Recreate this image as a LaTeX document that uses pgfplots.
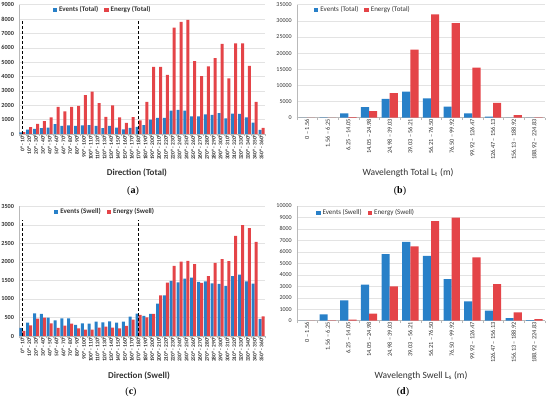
\documentclass[border=0pt]{standalone}
\usepackage{fontspec}
\setmainfont{Carlito}
\newfontfamily\capfont{Liberation Serif}
\usepackage{pgfplots}
\pgfplotsset{compat=1.18}
\definecolor{evblue}{RGB}{40,128,200}
\definecolor{enred}{RGB}{228,68,72}
\definecolor{txt}{RGB}{50,50,50}
\pgfplotsset{
  excel/.style={
    scale only axis,
    anchor=south west,
    axis x line*=bottom,
    axis y line*=left,
    axis line style={gray!55},
    ymin=0,
    ymajorgrids,
    grid style={gray!22, line width=0.4pt},
    tick align=outside,
    major tick length=0pt,
    minor tick length=2.5pt,
    tick style={gray!55},
    /pgf/number format/assume math mode=true,
    /pgf/number format/1000 sep={},
    scaled y ticks=false,
    ticklabel style={text=txt},
    yticklabel style={xshift=-1.5pt},
    xticklabel style={rotate=90, anchor=east, inner sep=1pt, yshift=0pt},
    legend columns=2,
    legend cell align=left,
    legend style={draw=none, fill=none, text=txt, inner sep=1pt,
      /tikz/every even column/.append style={column sep=4pt}},
    legend image code/.code={\fill[##1] (0pt,-2.2pt) rectangle (4.4pt,2.2pt);},
  },
  dirlabels/.style={
    xmin=-0.5, xmax=35.5,
    xtick={0,...,35},
    minor xtick={-0.5,0.5,...,35.5},
    xticklabel={\pgfmathtruncatemacro\lo{round(\tick)*10}\pgfmathtruncatemacro\hi{round(\tick)*10+10}\lo°~-~\hi°},
    xticklabel style={font=\bfseries\fontsize{5.5}{6}\selectfont},
    yticklabel style={font=\bfseries\fontsize{6.2}{7}\selectfont},
    legend style={font=\bfseries\fontsize{7}{8}\selectfont},
  },
  wavelabels/.style={
    xmin=-0.5, xmax=11.5,
    xtick={0,...,11},
    minor xtick={-0.5,0.5,...,11.5},
    xticklabels={0 – 1.56, 1.56 – 6.25, 6.25 – 14.05, 14.05 – 24.98, 24.98 – 39.03, 39.03 – 56.21, 56.21 – 76.50, 76.50 – 99.92, 99.92 – 126.47, 126.47 – 156.13, 156.13 – 188.92, 188.92 – 224.83},
    xticklabel style={font=\fontsize{6.3}{7}\selectfont},
    yticklabel style={font=\fontsize{6}{7}\selectfont},
    legend style={font=\fontsize{7}{8}\selectfont},
  },
}
\begin{document}
\begin{tikzpicture}
\path[use as bounding box] (0,0) rectangle (550pt,401pt);

% (a)
\begin{axis}[excel, dirlabels, at={(19pt,267pt)}, width=246pt, height=129.3pt,
  ymax=9000, ytick={0,1000,...,9000},
  legend style={at={(0.34,0.96)}, anchor=center}]
\addplot[ybar, bar width=3pt, bar shift=-1.5pt, fill=evblue, draw=none] coordinates {
(0,120) (1,300) (2,350) (3,400) (4,450) (5,680) (6,560) (7,600) (8,560) (9,600)
(10,620) (11,560) (12,400) (13,560) (14,450) (15,330) (16,430) (17,500) (18,620) (19,1000)
(20,1130) (21,1130) (22,1630) (23,1680) (24,1620) (25,1220) (26,1220) (27,1370) (28,1330) (29,1450)
(30,1080) (31,1420) (32,1400) (33,1150) (34,800) (35,280)};
\addlegendentry{Events (Total)}
\addplot[ybar, bar width=3pt, bar shift=1.5pt, fill=enred, draw=none] coordinates {
(0,130) (1,480) (2,700) (3,900) (4,1150) (5,1880) (6,1580) (7,1880) (8,1950) (9,2700)
(10,2950) (11,2150) (12,1200) (13,2000) (14,1150) (15,780) (16,1180) (17,950) (18,2230) (19,4680)
(20,4680) (21,4120) (22,7400) (23,7800) (24,7950) (25,5080) (26,4020) (27,4700) (28,5280) (29,6280)
(30,3870) (31,6300) (32,6300) (33,4750) (34,2230) (35,420)};
\addlegendentry{Energy (Total)}
\addplot[sharp plot, black, line width=1.1pt, dash pattern=on 3pt off 2pt, forget plot] coordinates {(0,0) (0,8000)};
\addplot[sharp plot, black, line width=1.1pt, dash pattern=on 3pt off 2pt, forget plot] coordinates {(17,0) (17,8000)};
\end{axis}

% (b)
\begin{axis}[excel, wavelabels, at={(296.7pt,283.3pt)}, width=248pt, height=113pt,
  ymax=35000, ytick={0,5000,...,35000},
  legend style={at={(0.267,0.953)}, anchor=center}]
\addplot[ybar, bar width=8.2pt, bar shift=-4.1pt, fill=evblue, draw=none] coordinates {
(0,0) (1,100) (2,1300) (3,3300) (4,5800) (5,8100) (6,6000) (7,3400) (8,1300) (9,300) (10,50) (11,20)};
\addlegendentry{Events (Total)}
\addplot[ybar, bar width=8.2pt, bar shift=4.1pt, fill=enred, draw=none] coordinates {
(0,0) (1,50) (2,200) (3,2000) (4,7600) (5,21100) (6,32000) (7,29300) (8,15500) (9,4600) (10,830) (11,120)};
\addlegendentry{Energy (Total)}
\end{axis}

% (c)
\begin{axis}[excel, dirlabels, at={(19pt,65pt)}, width=246pt, height=129.7pt,
  ymax=3500, ytick={0,500,...,3500},
  legend style={at={(0.35,0.956)}, anchor=center}]
\addplot[ybar, bar width=3pt, bar shift=-1.5pt, fill=evblue, draw=none] coordinates {
(0,216) (1,360) (2,612) (3,595) (4,495) (5,423) (6,477) (7,477) (8,297) (9,342)
(10,333) (11,387) (12,369) (13,396) (14,360) (15,387) (16,522) (17,603) (18,540) (19,595)
(20,874) (21,1099) (22,1486) (23,1450) (24,1550) (25,1577) (26,1459) (27,1477) (28,1423) (29,1405)
(30,1351) (31,1613) (32,1658) (33,1477) (34,1414) (35,459)};
\addlegendentry{Events (Swell)}
\addplot[ybar, bar width=3pt, bar shift=1.5pt, fill=enred, draw=none] coordinates {
(0,135) (1,288) (2,468) (3,495) (4,342) (5,216) (6,279) (7,333) (8,207) (9,171)
(10,171) (11,225) (12,252) (13,225) (14,207) (15,270) (16,441) (17,567) (18,504) (19,595)
(20,1099) (21,1441) (22,1892) (23,2009) (24,2027) (25,1937) (26,1432) (27,1613) (28,1973) (29,2072)
(30,2018) (31,2703) (32,2991) (33,2910) (34,2541) (35,532)};
\addlegendentry{Energy (Swell)}
\addplot[sharp plot, black, line width=1.1pt, dash pattern=on 3pt off 2pt, forget plot] coordinates {(0,0) (0,3120)};
\addplot[sharp plot, black, line width=1.1pt, dash pattern=on 3pt off 2pt, forget plot] coordinates {(17,0) (17,3120)};
\end{axis}

% (d)
\begin{axis}[excel, wavelabels, at={(296.7pt,80.3pt)}, width=248pt, height=114.7pt,
  ymax=10000, ytick={0,1000,...,10000},
  legend style={at={(0.28,0.94)}, anchor=center}]
\addplot[ybar, bar width=8.2pt, bar shift=-4.1pt, fill=evblue, draw=none] coordinates {
(0,0) (1,550) (2,1780) (3,3150) (4,5800) (5,6880) (6,5650) (7,3630) (8,1680) (9,880) (10,230) (11,50)};
\addlegendentry{Events (Swell)}
\addplot[ybar, bar width=8.2pt, bar shift=4.1pt, fill=enred, draw=none] coordinates {
(0,0) (1,30) (2,100) (3,620) (4,3000) (5,6480) (6,8680) (7,8980) (8,5520) (9,3180) (10,720) (11,130)};
\addlegendentry{Energy (Swell)}
\end{axis}

% titles and panel letters
\node[font=\bfseries\fontsize{9}{11}\selectfont, text=txt] at (137pt,228pt) {Direction (Total)};
\node[font=\capfont\fontsize{10}{12}\selectfont] at (133pt,210pt) {(\textbf{a})};
\node[font=\fontsize{9.5}{11}\selectfont, text=txt] at (408pt,228pt) {Wavelength Total L\textsubscript{t} (m)};
\node[font=\capfont\fontsize{10}{12}\selectfont] at (400pt,210pt) {(\textbf{b})};
\node[font=\bfseries\fontsize{9}{11}\selectfont, text=txt] at (139pt,25pt) {Direction (Swell)};
\node[font=\capfont\fontsize{10}{12}\selectfont] at (131pt,9pt) {(\textbf{c})};
\node[font=\fontsize{9.5}{11}\selectfont, text=txt] at (421pt,25pt) {Wavelength Swell L\textsubscript{s} (m)};
\node[font=\capfont\fontsize{10}{12}\selectfont] at (403pt,9pt) {(\textbf{d})};
\end{tikzpicture}
\end{document}
